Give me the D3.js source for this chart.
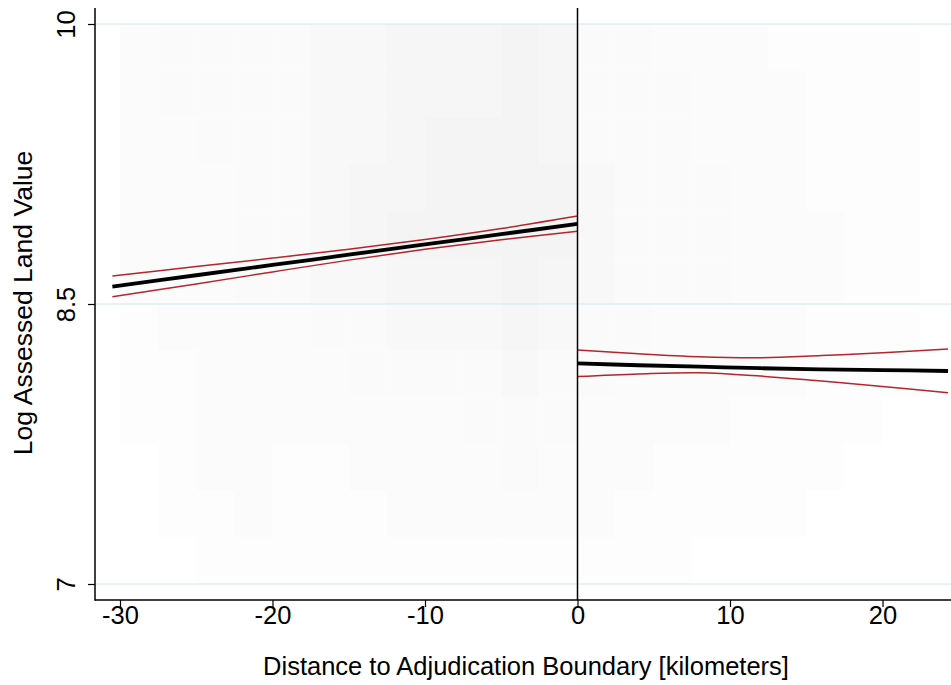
<!DOCTYPE html>
<html>
<head>
<meta charset="utf-8">
<script src="https://cdn.jsdelivr.net/npm/d3@7"></script>
<style>
  html, body { margin: 0; padding: 0; background: #fff; }
  svg { display: block; font-family: "Liberation Sans", Arial, sans-serif; }
</style>
</head>
<body>
<svg id="chart" width="951" height="685"></svg>
<script>
// ---- data ----
const xTicks = [-30, -20, -10, 0, 10, 20];
const yTicks = [7, 8.5, 10];

// left of boundary: linear fit with 95% CI
const leftX     = [-30.5, -25, -20, -15, -10, -5, 0];
const leftFit   = [8.593, 8.654, 8.709, 8.764, 8.819, 8.874, 8.929];
const leftUpper = [8.650, 8.701, 8.746, 8.793, 8.845, 8.904, 8.971];
const leftLower = [8.539, 8.607, 8.672, 8.735, 8.793, 8.844, 8.890];

// right of boundary: quadratic fit with 95% CI
const rightX     = [0, 4, 8, 12, 16, 20, 24.3];
const rightFit   = [8.182, 8.172, 8.164, 8.156, 8.150, 8.146, 8.141];
const rightUpper = [8.254, 8.233, 8.217, 8.212, 8.224, 8.239, 8.259];
const rightLower = [8.111, 8.125, 8.132, 8.114, 8.087, 8.058, 8.025];

// scatter cloud summarised as density of observations (0-9) per cell
const densityXEdges = [-30, -27.5, -25, -22.5, -20, -17.5, -15, -12.5, -10, -7.5, -5, -2.5,
                       0, 2.5, 5, 7.5, 10, 12.5, 15, 17.5, 20, 22.5, 24.3];
const densityYEdges = [10, 9.75, 9.5, 9.25, 9.0, 8.75, 8.5, 8.25, 8.0, 7.75, 7.5, 7.25, 7.0];
const density = [
  [2,3,3,3,3,4,4,5,5,5,6,5, 3,3,2,2,2,1,1,1,1,0],
  [2,3,3,3,3,4,4,5,5,5,6,5, 3,3,3,2,2,2,1,1,1,0],
  [2,2,3,3,3,4,4,5,6,6,6,5, 3,3,3,2,2,2,1,1,1,0],
  [2,2,2,3,3,4,5,5,6,6,6,6, 4,3,3,3,2,2,1,1,1,0],
  [2,2,2,3,3,4,5,6,6,6,6,6, 4,3,3,3,2,2,2,1,1,0],
  [2,2,2,3,3,4,4,5,5,5,6,5, 4,3,3,3,2,2,2,1,1,0],
  [1,2,2,2,2,3,3,4,4,4,5,4, 3,3,2,2,2,2,1,1,1,0],
  [1,1,2,2,2,2,3,3,3,3,4,3, 3,2,2,2,2,2,1,1,1,0],
  [1,1,2,2,2,2,2,2,2,3,3,3, 2,2,2,2,1,1,1,1,0,0],
  [0,1,2,2,1,1,2,2,2,2,3,2, 2,2,1,1,1,1,1,0,0,0],
  [0,1,1,2,1,1,1,2,2,2,2,2, 2,1,1,1,1,1,0,0,0,0],
  [0,0,1,1,1,1,1,1,1,1,1,1, 1,1,1,0,0,0,0,0,0,0]
];

// ---- layout ----
const svg = d3.select("#chart");
const W = 951;
const x = d3.scaleLinear().domain([-30, 20]).range([120, 882.5]);
const y = d3.scaleLinear().domain([7, 10]).range([584, 24]);
const plotLeft = 95, plotTop = 8, plotBottom = 600, plotRight = W;

// density cells
const cells = [];
density.forEach((row, i) => row.forEach((v, j) => {
  cells.push({x0: densityXEdges[j], x1: densityXEdges[j + 1],
              y0: densityYEdges[i], y1: densityYEdges[i + 1], v});
}));
svg.append("g").selectAll("rect").data(cells).join("rect")
  .attr("x", d => x(d.x0))
  .attr("y", d => y(d.y0))
  .attr("width", d => x(d.x1) - x(d.x0))
  .attr("height", d => y(d.y1) - y(d.y0))
  .attr("fill", "#000")
  .attr("fill-opacity", d => d.v * 0.007);

// gridlines
svg.append("g").selectAll("line").data(yTicks).join("line")
  .attr("x1", plotLeft + 1).attr("x2", plotRight)
  .attr("y1", d => y(d)).attr("y2", d => y(d))
  .attr("stroke", "#e3ecef").attr("stroke-width", 1.5);

// fit lines
function drawSeries(xs, ys, color, width) {
  const pts = xs.map((v, i) => [v, ys[i]]);
  svg.append("path").datum(pts)
    .attr("fill", "none")
    .attr("stroke", color)
    .attr("stroke-width", width)
    .attr("stroke-linejoin", "round")
    .attr("d", d3.line().x(d => x(d[0])).y(d => y(d[1])).curve(d3.curveCatmullRom));
}
const red = "#b3262b";
drawSeries(leftX, leftUpper, red, 1.5);
drawSeries(leftX, leftLower, red, 1.5);
drawSeries(rightX, rightUpper, red, 1.5);
drawSeries(rightX, rightLower, red, 1.5);
drawSeries(leftX, leftFit, "#000", 3.8);
drawSeries(rightX, rightFit, "#000", 3.8);

// boundary line at 0
svg.append("line")
  .attr("x1", x(0)).attr("x2", x(0))
  .attr("y1", plotTop).attr("y2", plotBottom)
  .attr("stroke", "#000").attr("stroke-width", 1.5);

const fmt = d => String(d);

// y axis
const yAxis = svg.append("g").attr("transform", `translate(${plotLeft},0)`)
  .call(d3.axisLeft(y).tickValues(yTicks).tickSize(7).tickSizeOuter(0).tickFormat(fmt));
yAxis.select(".domain").remove();
yAxis.selectAll(".tick line").attr("stroke", "#000").attr("stroke-width", 1.2);
yAxis.selectAll(".tick text")
  .attr("font-size", 25.5)
  .attr("fill", "#000")
  .attr("text-anchor", "middle")
  .attr("dominant-baseline", "central")
  .attr("x", null).attr("dy", null)
  .attr("transform", "translate(-29,0) rotate(-90)");
svg.append("line")
  .attr("x1", plotLeft).attr("x2", plotLeft)
  .attr("y1", plotTop).attr("y2", plotBottom + 0.75)
  .attr("stroke", "#000").attr("stroke-width", 1.5);

// x axis
const xAxis = svg.append("g").attr("transform", `translate(0,${plotBottom})`)
  .call(d3.axisBottom(x).tickValues(xTicks).tickSize(7).tickSizeOuter(0).tickFormat(fmt));
xAxis.select(".domain").remove();
xAxis.selectAll(".tick line").attr("stroke", "#000").attr("stroke-width", 1.2);
xAxis.selectAll(".tick text")
  .attr("font-size", 25.5)
  .attr("fill", "#000")
  .attr("y", 24).attr("dy", null);
svg.append("line")
  .attr("x1", plotLeft).attr("x2", plotRight)
  .attr("y1", plotBottom).attr("y2", plotBottom)
  .attr("stroke", "#000").attr("stroke-width", 1.5);

// axis titles
svg.append("text")
  .attr("x", 526).attr("y", 675)
  .attr("text-anchor", "middle")
  .attr("font-size", 25.5).attr("fill", "#000")
  .text("Distance to Adjudication Boundary [kilometers]");
svg.append("text")
  .attr("transform", "translate(23,303) rotate(-90)")
  .attr("text-anchor", "middle")
  .attr("dominant-baseline", "central")
  .attr("font-size", 26.5).attr("fill", "#000")
  .text("Log Assessed Land Value");
</script>
</body>
</html>
